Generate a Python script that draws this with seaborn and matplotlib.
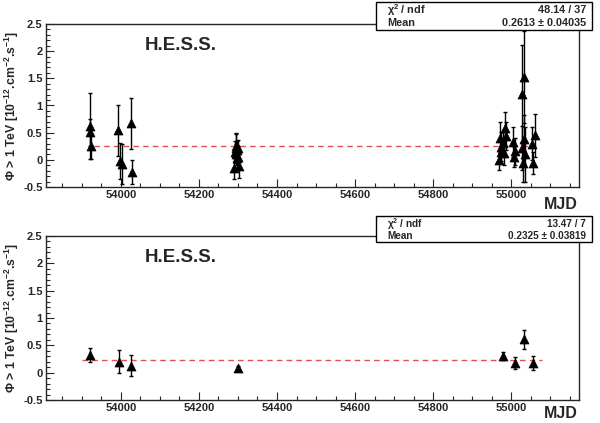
import numpy as np
import pandas as pd
import matplotlib
matplotlib.use("Agg")
import matplotlib.pyplot as plt
import seaborn as sns
from matplotlib.patches import Rectangle
from matplotlib.ticker import MultipleLocator, FuncFormatter

# top panel: all runs
mjd_all = [53920, 53922, 53924, 53993, 53997, 54003, 54027, 54029,
           54290, 54292, 54294, 54295, 54296, 54297, 54298, 54299, 54301, 54303,
           54970, 54971, 54973, 54975, 54978, 54981, 54984, 54986,
           55006, 55008, 55010, 55027, 55029, 55030, 55032, 55034, 55036,
           55053, 55056, 55061]
flux_all = [0.62, 0.51, 0.25, 0.54, -0.02, -0.07, 0.67, -0.23,
            -0.15, 0.15, 0.22, 0.26, 0.10, 0.03, 0.18, 0.05, 0.21, -0.12,
            -0.01, 0.41, 0.15, 0.24, 0.31, 0.12, 0.58, 0.44,
            0.33, 0.06, 0.16, 1.22, 0.22, -0.06, 1.53, 0.38, 0.10,
            0.30, -0.06, 0.45]
err_all = [0.61, 0.25, 0.24, 0.47, 0.33, 0.37, 0.47, 0.22,
           0.20, 0.20, 0.27, 0.22, 0.20, 0.22, 0.17, 0.20, 0.15, 0.22,
           0.17, 0.28, 0.20, 0.27, 0.20, 0.22, 0.30, 0.25,
           0.28, 0.20, 0.25, 0.90, 0.40, 0.35, 0.85, 0.45, 0.50,
           0.30, 0.20, 0.40]

# bottom panel: per period
mjd_per = [53922, 53996, 54027, 54299, 54978, 55009, 55032, 55057]
flux_per = [0.32, 0.20, 0.13, 0.09, 0.31, 0.18, 0.61, 0.17]
err_per = [0.13, 0.21, 0.19, 0.03, 0.07, 0.11, 0.17, 0.13]

fit_top = {"chi2": "48.14 / 37", "mean": 0.2613, "err": "0.2613 ± 0.04035",
           "range": (53930, 55065)}
fit_bot = {"chi2": "13.47 / 7", "mean": 0.2325, "err": "0.2325 ± 0.03819",
           "range": (53900, 55078)}

sns.set_style("ticks")
plt.rcParams["font.family"] = ["Liberation Sans", "DejaVu Sans"]
plt.rcParams["font.weight"] = "bold"
plt.rcParams["mathtext.fontset"] = "custom"
plt.rcParams["mathtext.rm"] = "Liberation Sans:bold"
plt.rcParams["mathtext.it"] = "Liberation Sans:bold"
plt.rcParams["mathtext.bf"] = "Liberation Sans:bold"
plt.rcParams["mathtext.default"] = "rm"
plt.rcParams["axes.unicode_minus"] = False

W, H = 600, 423
fig = plt.figure(figsize=(6, 4.23), dpi=100)


def px(x0, y0, x1, y1):
    return [x0 / W, 1 - y1 / H, (x1 - x0) / W, (y1 - y0) / H]


def panel(rect, mjd, flux, err, fit, box):
    ax = fig.add_axes(px(*rect))
    df = pd.DataFrame({"MJD": mjd, "flux": flux, "err": err})
    ax.errorbar(df["MJD"], df["flux"], yerr=df["err"], fmt="none",
                ecolor="black", elinewidth=1, capsize=1.5, capthick=1, zorder=2)
    sns.scatterplot(data=df, x="MJD", y="flux", marker="^", s=42,
                    color="black", edgecolor="black", linewidth=0.5,
                    ax=ax, zorder=3, legend=False)
    ax.hlines(fit["mean"], fit["range"][0], fit["range"][1], colors="#e05050",
              linestyles=(0, (4, 3)), linewidth=1, zorder=1)
    ax.set_xlim(53808, 55174)
    ax.set_ylim(-0.5, 2.5)
    ax.xaxis.set_major_locator(MultipleLocator(200))
    ax.xaxis.set_minor_locator(MultipleLocator(50))
    ax.yaxis.set_major_locator(MultipleLocator(0.5))
    ax.yaxis.set_minor_locator(MultipleLocator(0.1))
    ax.yaxis.set_major_formatter(FuncFormatter(lambda v, p: "%g" % v))
    ax.tick_params(which="both", direction="in", top=False, right=False,
                   labelsize=8, width=0.8)
    ax.tick_params(which="major", length=5.5, pad=2.5)
    ax.tick_params(which="minor", length=3)
    for lab in ax.get_xticklabels() + ax.get_yticklabels():
        lab.set_fontweight("bold")
    for s in ax.spines.values():
        s.set_linewidth(1)
        s.set_visible(True)
    ax.set_xlabel("")
    ax.set_ylabel("Φ > 1 TeV [10$^{-12}$.cm$^{-2}$.s$^{-1}$]", fontsize=8.8,
                  fontweight="bold")
    ax.yaxis.set_label_coords(-0.047, 0.5)
    ax.text(0.185, 0.87, "H.E.S.S.", transform=ax.transAxes, fontsize=13.5,
            fontweight="bold", ha="left", va="center")
    # MJD axis title
    fig.text(578 / W, 1 - box[4] / H, "MJD", fontsize=11.5, fontweight="bold",
             ha="right", va="center")
    # stats box
    x0, y0, x1, y1 = box[:4]
    fig.patches.append(Rectangle((x0 / W, 1 - y1 / H), (x1 - x0) / W, (y1 - y0) / H,
                                 transform=fig.transFigure, facecolor="white",
                                 edgecolor="black", linewidth=1, zorder=5))
    l1 = y0 + (y1 - y0) * 0.30
    l2 = y0 + (y1 - y0) * 0.76
    fs = box[5]
    fig.text(387 / W, 1 - l1 / H, "χ$^2$ / ndf", fontsize=fs, fontweight="bold",
             ha="left", va="center", zorder=6)
    fig.text(387 / W, 1 - l2 / H, "Mean", fontsize=fs, fontweight="bold",
             ha="left", va="center", zorder=6)
    fig.text(586 / W, 1 - l1 / H, fit["chi2"], fontsize=fs, fontweight="bold",
             ha="right", va="center", zorder=6)
    fig.text(586 / W, 1 - l2 / H, fit["err"], fontsize=fs, fontweight="bold",
             ha="right", va="center", zorder=6)
    return ax


ax1 = panel((46, 24, 579, 187), mjd_all, flux_all, err_all, fit_top,
            (376, 2, 592, 30, 204, 7.8))
ax2 = panel((46, 236, 579, 400), mjd_per, flux_per, err_per, fit_bot,
            (376, 216, 592, 242, 413, 7.2))

fig.savefig("out.png", dpi=100)
